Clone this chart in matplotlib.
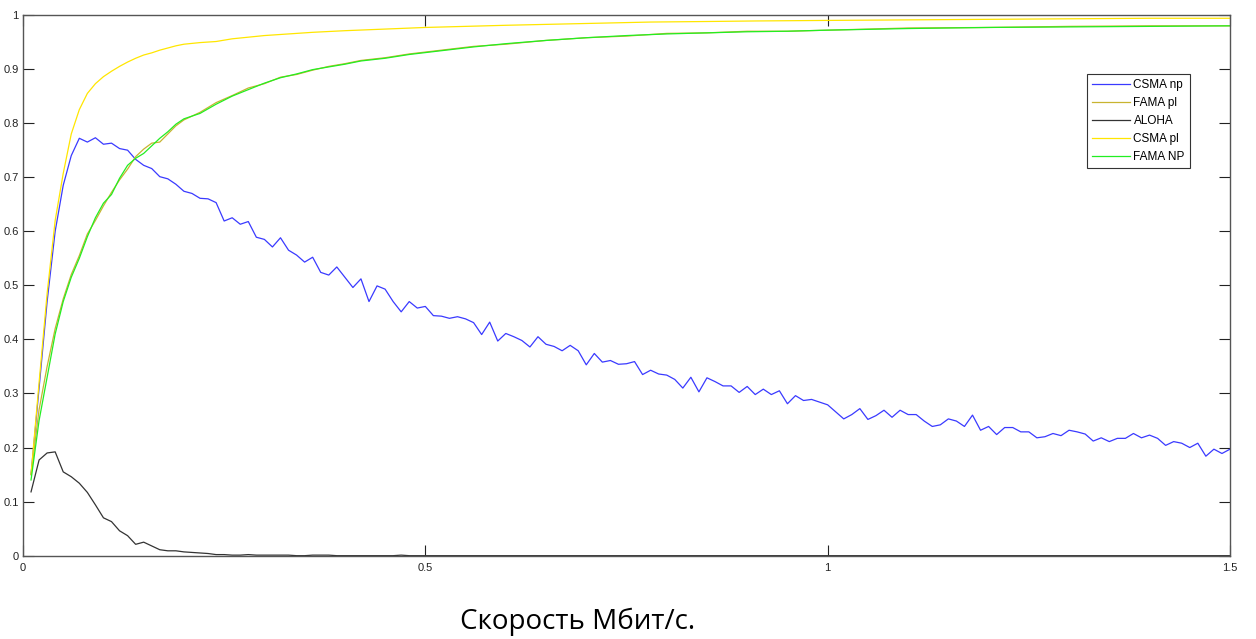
import numpy as np
import matplotlib
matplotlib.use("Agg")
import matplotlib.pyplot as plt
from matplotlib.ticker import FuncFormatter

# Throughput vs. rate, sampled every 0.01 Mbit/s
rate = np.round(np.arange(1, 151) * 0.01, 2)

csma_np = [
    0.15, 0.31, 0.47, 0.60, 0.685, 0.74, 0.772, 0.765, 0.773, 0.761,
    0.763, 0.753, 0.750, 0.733, 0.722, 0.716, 0.701, 0.697, 0.687, 0.674,
    0.670, 0.661, 0.660, 0.653, 0.619, 0.625, 0.613, 0.618, 0.589, 0.585,
    0.571, 0.588, 0.565, 0.556, 0.543, 0.552, 0.524, 0.519, 0.534, 0.515,
    0.496, 0.512, 0.470, 0.499, 0.493, 0.470, 0.451, 0.470, 0.458, 0.461,
    0.444, 0.443, 0.439, 0.442, 0.438, 0.431, 0.409, 0.432, 0.397, 0.411,
    0.405, 0.398, 0.386, 0.405, 0.391, 0.387, 0.379, 0.389, 0.379, 0.353,
    0.374, 0.358, 0.361, 0.354, 0.355, 0.359, 0.335, 0.343, 0.336, 0.334,
    0.326, 0.310, 0.330, 0.303, 0.329, 0.322, 0.314, 0.314, 0.302, 0.313,
    0.298, 0.308, 0.298, 0.305, 0.281, 0.296, 0.287, 0.289, 0.284, 0.279,
    0.266, 0.253, 0.261, 0.272, 0.252, 0.259, 0.269, 0.256, 0.269, 0.261,
    0.261, 0.249, 0.239, 0.242, 0.253, 0.249, 0.239, 0.260, 0.232, 0.239,
    0.224, 0.237, 0.237, 0.229, 0.229, 0.218, 0.220, 0.226, 0.222, 0.232,
    0.229, 0.225, 0.212, 0.218, 0.211, 0.217, 0.217, 0.226, 0.218, 0.223,
    0.217, 0.204, 0.211, 0.208, 0.200, 0.208, 0.184, 0.197, 0.189, 0.197,
]

aloha = [
    0.118, 0.177, 0.190, 0.192, 0.155, 0.146, 0.134, 0.117, 0.094, 0.070,
    0.063, 0.046, 0.037, 0.021, 0.025, 0.018, 0.011, 0.009, 0.009, 0.007,
    0.006, 0.005, 0.004, 0.002, 0.002, 0.001, 0.001, 0.002, 0.001, 0.001,
    0.001, 0.001, 0.001, 0.0, 0.0, 0.001, 0.001, 0.001, 0.0, 0.0,
    0.0, 0.0, 0.0, 0.0, 0.0, 0.0, 0.001, 0.0, 0.0, 0.0,
] + [0.0] * 100

# smoother curves, read at fewer points
rate_csma_pl = [0.01, 0.02, 0.03, 0.04, 0.05, 0.06, 0.07, 0.08, 0.09, 0.10,
                0.11, 0.12, 0.13, 0.14, 0.15, 0.16, 0.17, 0.18, 0.19, 0.20,
                0.22, 0.24, 0.26, 0.28, 0.30, 0.33, 0.36, 0.40, 0.45, 0.50,
                0.55, 0.60, 0.66, 0.72, 0.78, 0.85, 0.91, 1.00, 1.10, 1.20,
                1.30, 1.40, 1.50]
csma_pl = [0.15, 0.32, 0.485, 0.62, 0.707, 0.78, 0.825, 0.855, 0.873, 0.886,
           0.896, 0.905, 0.913, 0.920, 0.926, 0.930, 0.935, 0.939, 0.943, 0.946,
           0.949, 0.951, 0.956, 0.959, 0.962, 0.965, 0.968, 0.971, 0.974, 0.977,
           0.979, 0.981, 0.983, 0.985, 0.987, 0.988, 0.989, 0.990, 0.991, 0.992,
           0.993, 0.994, 0.994]

rate_fama = [0.01, 0.02, 0.03, 0.04, 0.05, 0.06, 0.07, 0.08, 0.09, 0.10,
             0.11, 0.12, 0.13, 0.14, 0.15, 0.16, 0.17, 0.18, 0.19, 0.20,
             0.22, 0.24, 0.26, 0.28, 0.30, 0.32, 0.34, 0.36, 0.38, 0.40,
             0.42, 0.45, 0.48, 0.52, 0.56, 0.60, 0.65, 0.70, 0.75, 0.80,
             0.85, 0.90, 0.95, 1.00, 1.10, 1.20, 1.30, 1.40, 1.50]
fama_pl = [0.15, 0.27, 0.35, 0.42, 0.475, 0.52, 0.555, 0.595, 0.62, 0.647,
           0.672, 0.695, 0.715, 0.738, 0.752, 0.763, 0.765, 0.780, 0.795, 0.806,
           0.820, 0.838, 0.851, 0.865, 0.873, 0.885, 0.890, 0.898, 0.905, 0.910,
           0.916, 0.921, 0.928, 0.935, 0.942, 0.946, 0.953, 0.958, 0.961, 0.966,
           0.967, 0.970, 0.970, 0.972, 0.976, 0.977, 0.979, 0.980, 0.980]
fama_np = [0.14, 0.25, 0.33, 0.41, 0.47, 0.515, 0.55, 0.59, 0.625, 0.652,
           0.668, 0.698, 0.722, 0.735, 0.744, 0.758, 0.772, 0.784, 0.798, 0.808,
           0.818, 0.835, 0.850, 0.862, 0.874, 0.884, 0.891, 0.899, 0.904, 0.909,
           0.915, 0.920, 0.927, 0.934, 0.941, 0.947, 0.953, 0.958, 0.962, 0.965,
           0.967, 0.969, 0.970, 0.972, 0.975, 0.977, 0.978, 0.979, 0.980]

plt.rcParams['font.family'] = ['Liberation Sans', 'DejaVu Sans']

fig = plt.figure(figsize=(12.56, 6.39), dpi=100)
ax = fig.add_axes([0.0183, 0.1304, 0.9610, 0.8461])

lw = 0.9
ax.plot(rate, csma_np, color='#3a3aff', lw=lw, label='CSMA np')
ax.plot(rate_fama, fama_pl, color='#c8b430', lw=lw, label='FAMA pl')
ax.plot(rate, aloha, color='#333333', lw=lw, label='ALOHA')
ax.plot(rate_csma_pl, csma_pl, color='#ffe600', lw=lw, label='CSMA pl')
ax.plot(rate_fama, fama_np, color='#22ee22', lw=lw, label='FAMA NP')

ax.set_xlim(0, 1.5)
ax.set_ylim(0, 1)
ax.set_xticks([0, 0.5, 1, 1.5])
ax.set_yticks(np.round(np.arange(0, 11) * 0.1, 1))
fmt = FuncFormatter(lambda v, p: '%g' % v)
ax.xaxis.set_major_formatter(fmt)
ax.yaxis.set_major_formatter(fmt)
ax.tick_params(direction='in', length=8, width=0.8, color='#222222',
               labelsize=8, labelcolor='#222222',
               top=True, right=True, pad=3)
ax.tick_params(axis='x', pad=5)
for s in ax.spines.values():
    s.set_color('#555555')
    s.set_linewidth(1.0)

leg = ax.legend(loc='upper right', bbox_to_anchor=(0.967, 0.891),
                borderaxespad=0, fontsize=8.5, handlelength=3.2,
                fancybox=False, framealpha=1, labelspacing=0.5,
                handletextpad=0.3, borderpad=0.45)
leg.get_frame().set_edgecolor('#333333')
leg.get_frame().set_linewidth(0.8)

fig.text(578 / 1256, 1 - 622 / 639, 'Скорость Мбит/с.', fontsize=20,
         family=['Open Sans', 'DejaVu Sans'], ha='center', va='center')

fig.savefig('out.png', dpi=100)
